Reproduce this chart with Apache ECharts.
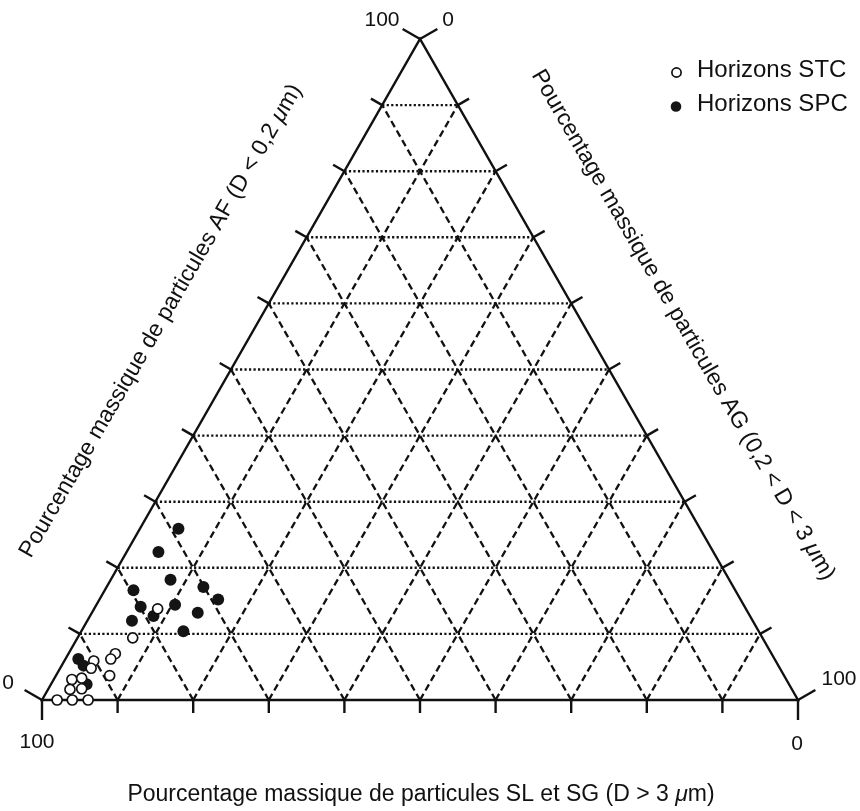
<!DOCTYPE html>
<html>
<head>
<meta charset="utf-8">
<script src="https://cdn.jsdelivr.net/npm/echarts@6/dist/echarts.min.js"></script>
<style>
  html, body { margin: 0; padding: 0; background: #ffffff; }
  #chart { width: 860px; height: 811px; }
</style>
</head>
<body>
<div id="chart"></div>
<script>
// Ternary diagram: AF (fine, D < 0.2 µm), AG (coarse, 0.2-3 µm), SL+SG (D > 3 µm)
const TICKS = [0, 10, 20, 30, 40, 50, 60, 70, 80, 90, 100];
const END_LABELS = ['0', '100'];

// Horizons SPC (filled markers), mass percentages
const spcFine   = [25.9, 22.4, 18.2, 16.6, 17.1, 15.2, 14.1, 14.4, 13.2, 12.0, 12.7, 10.4, 6.2, 5.2, 2.4];
const spcCoarse = [5.1, 4.2, 7.9, 3.8, 12.8, 15.7, 6.0, 10.4, 14.0, 5.9, 8.4, 13.5, 1.7, 2.9, 4.7];
const spcSilt   = [69.0, 73.4, 73.9, 79.6, 70.1, 69.1, 79.9, 75.2, 72.8, 82.1, 78.9, 76.1, 92.1, 91.9, 92.9];

// Horizons STC (open markers), mass percentages
const stcFine   = [13.8, 9.4, 7.0, 6.2, 3.7, 5.9, 4.8, 3.1, 3.3, 1.6, 1.7, 0.0, 0.0, 0.0];
const stcCoarse = [8.4, 7.3, 6.2, 6.0, 7.1, 3.9, 4.1, 2.4, 3.6, 2.9, 4.4, 2.0, 4.0, 6.1];
const stcSilt   = [77.8, 83.3, 86.8, 87.8, 89.2, 90.2, 91.1, 94.5, 93.1, 95.5, 93.9, 98.0, 96.0, 93.9];

const SERIES_NAMES = ['Horizons STC', 'Horizons SPC'];
const TITLE_BOTTOM = 'Pourcentage massique de particules SL et SG (D > 3 {i|μ}m)';
const TITLE_LEFT   = 'Pourcentage massique de particules AF (D < 0,2 {i|μ}m)';
const TITLE_RIGHT  = 'Pourcentage massique de particules AG (0,2 < D < 3 {i|μ}m)';

const FONT = '"Liberation Sans", Arial, Helvetica, sans-serif';
const INK = '#111111';

// Planar position of a composition: x = AG + AF/2, y = AF (silt fraction is the remainder)
function toPlane(fine, coarse) {
  return [coarse + fine / 2, fine];
}

function points(fine, coarse, silt) {
  return fine.map((f, i) => {
    const p = toPlane(f, coarse[i]);
    return [p[0], p[1], f, coarse[i], silt[i]];
  });
}

function unit(dx, dy) {
  const l = Math.hypot(dx, dy);
  return [dx / l, dy / l];
}

function renderFrame(params, api) {
  const P = (f, c) => api.coord(toPlane(f, c));
  const A = P(0, 0);     // SL = 100
  const B = P(0, 100);   // AG = 100
  const C = P(100, 0);   // AF = 100
  const children = [];
  const dotted = { stroke: INK, lineWidth: 2.4, lineDash: [2.2, 2.3], fill: null };
  const dashed = { stroke: INK, lineWidth: 2.3, lineDash: [7, 4], fill: null };
  const solid  = { stroke: INK, lineWidth: 2.4, fill: null };

  const line = (p, q, style) => children.push({
    type: 'line', shape: { x1: p[0], y1: p[1], x2: q[0], y2: q[1] }, style: style
  });

  TICKS.forEach(t => {
    if (t === 0 || t === 100) return;
    line(P(t, 0), P(t, 100 - t), dotted);          // constant AF
    line(P(0, t), P(100 - t, t), dashed);          // constant AG
    line(P(0, 100 - t), P(100 - t, 0), dashed);    // constant SL
  });

  children.push({
    type: 'polygon', shape: { points: [A, B, C] }, style: solid
  });

  const nBottom = [0, 1];
  const eL = unit(C[0] - A[0], C[1] - A[1]);
  const nLeft = [eL[1], -eL[0]];
  const eR = unit(C[0] - B[0], C[1] - B[1]);
  const nRight = [-eR[1], eR[0]];
  const tick = (p, n, len) => line(p, [p[0] + n[0] * len, p[1] + n[1] * len], solid);

  TICKS.forEach(t => {
    const len = (t === 0 || t === 100) ? 20 : 13;
    tick(P(0, t), nBottom, len);
    tick(P(t, 0), nLeft, len);
    tick(P(100 - t, t), nRight, len);
  });

  const label = (p, dx, dy, text) => children.push({
    type: 'text',
    style: {
      x: p[0] + dx, y: p[1] + dy, text: text,
      font: '21px ' + FONT, fill: INK, align: 'center', verticalAlign: 'middle'
    }
  });
  // apex: AF = 100 on the left side, AG = 0 on the right side
  label(C, -38, -19, END_LABELS[1]);
  label(C, 28, -19, END_LABELS[0]);
  // bottom-left: AF = 0, SL = 100
  label(A, -34, -17, END_LABELS[0]);
  label(A, -5, 42, END_LABELS[1]);
  // bottom-right: AG = 100, SL = 0
  label(B, 41, -21, END_LABELS[1]);
  label(B, -1, 44, END_LABELS[0]);

  return { type: 'group', children: children };
}

const chart = echarts.init(document.getElementById('chart'), null, { renderer: 'canvas' });

const titleStyle = (text) => ({
  text: text,
  font: '23px ' + FONT,
  fill: INK,
  align: 'center',
  verticalAlign: 'middle',
  rich: { i: { fontStyle: 'italic', fontSize: 23, fontFamily: FONT, fill: INK } }
});

chart.setOption({
  animation: false,
  backgroundColor: '#ffffff',
  grid: { left: 42, right: 62, top: 39, bottom: 111 },
  xAxis: { type: 'value', min: 0, max: 100, show: false },
  yAxis: { type: 'value', min: 0, max: 100, show: false },
  series: [
    {
      type: 'custom',
      name: 'frame',
      data: [[0, 0]],
      renderItem: renderFrame,
      clip: false,
      silent: true,
      z: 1
    },
    {
      type: 'scatter',
      name: SERIES_NAMES[1],
      data: points(spcFine, spcCoarse, spcSilt),
      symbol: 'circle',
      symbolSize: 12,
      itemStyle: { color: '#141414', opacity: 1 },
      z: 4
    },
    {
      type: 'scatter',
      name: SERIES_NAMES[0],
      data: points(stcFine, stcCoarse, stcSilt),
      symbol: 'circle',
      symbolSize: 10,
      itemStyle: { color: '#ffffff', borderColor: INK, borderWidth: 1.7, opacity: 1 },
      z: 5
    }
  ],
  graphic: [
    { type: 'text', x: 421, y: 795, style: titleStyle(TITLE_BOTTOM) },
    { type: 'text', x: 161, y: 321, rotation: Math.PI / 3, style: titleStyle(TITLE_LEFT) },
    { type: 'text', x: 683, y: 325, rotation: -Math.PI / 3, style: titleStyle(TITLE_RIGHT) },
    { type: 'circle', shape: { cx: 676.5, cy: 72.5, r: 4.6 }, style: { fill: '#ffffff', stroke: INK, lineWidth: 1.7 } },
    { type: 'text', x: 697, y: 70, style: { text: SERIES_NAMES[0], font: '24px ' + FONT, fill: INK, align: 'left', verticalAlign: 'middle' } },
    { type: 'circle', shape: { cx: 676, cy: 106.5, r: 5.3 }, style: { fill: '#141414' } },
    { type: 'text', x: 697, y: 104, style: { text: SERIES_NAMES[1], font: '24px ' + FONT, fill: INK, align: 'left', verticalAlign: 'middle' } }
  ]
});
</script>
</body>
</html>
